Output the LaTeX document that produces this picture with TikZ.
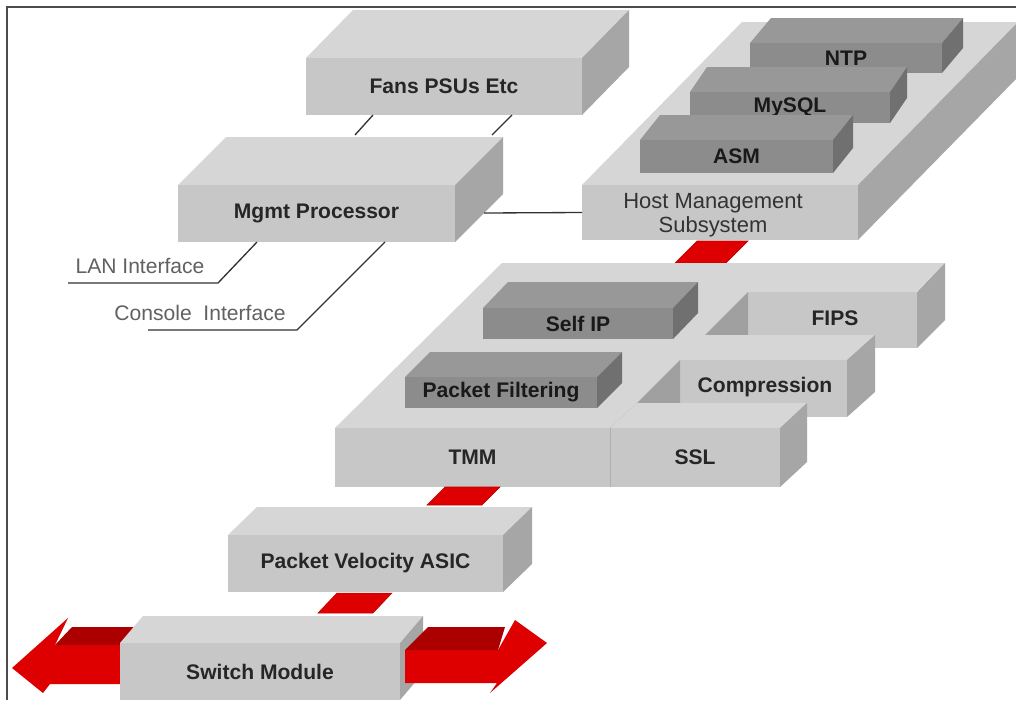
\documentclass[tikz,border=0pt]{standalone}
\usepackage{fontspec}
\setmainfont{Liberation Sans}
\usetikzlibrary{calc}
\definecolor{slabtop}{RGB}{214,214,214}
\definecolor{slabfront}{RGB}{199,199,199}
\definecolor{slabside}{RGB}{166,166,166}
\definecolor{coretop}{RGB}{152,152,152}
\definecolor{corefront}{RGB}{140,140,140}
\definecolor{coreside}{RGB}{112,112,112}
\definecolor{notchgray}{RGB}{160,160,160}
\definecolor{linkred}{RGB}{222,0,0}
\definecolor{arrowdark}{RGB}{172,0,0}
\definecolor{wire}{RGB}{50,50,50}
\newcommand{\boxfont}{\fontsize{12}{14}\selectfont\bfseries}
\newcommand{\slab}[9]{%
  \fill[#8top] (#2,#3) -- ++(#6,-#7) -- ++(#4-#2,0) -- (#4,#3) -- cycle;
  \fill[#8side] (#4,#3) -- ++(#6,-#7) -- ++(0,#5-#3) -- (#4,#5) -- cycle;
  \node[#8front, anchor=north west, minimum width={(#4-#2)*0.02cm},
        minimum height={(#5-#3)*0.02cm}] (#1) at (#2,#3) {#9};}

\begin{document}
\begin{tikzpicture}[x=0.02cm, y=-0.02cm,
    lttop/.style={fill=slabtop},
    ltside/.style={fill=slabside},
    ltfront/.style={fill=slabfront, inner sep=0pt, outer sep=0pt,
                    font=\boxfont, text=black!85, align=center},
    dktop/.style={fill=coretop},
    dkside/.style={fill=coreside},
    dkfront/.style={fill=corefront, inner sep=0pt, outer sep=0pt,
                    font=\boxfont, text=black!90, align=center},
    notch/.style={fill=notchgray},
    tag/.style={font=\boxfont, text=black!85},
    wire/.style={draw=wire, line width=0.75pt},
    link/.style={fill=linkred, draw=linkred!85!black, line width=0.3pt},
    arrtop/.style={fill=arrowdark},
    arrfront/.style={fill=linkred},
    note/.style={font=\fontsize{12.5}{13.6}\selectfont, align=center, text=black!80},
    iface/.style={font=\fontsize{12}{14}\selectfont, text=black!62}]
  \useasboundingbox (0,0) rectangle (1016,700);
  \clip (0,0) rectangle (1016,700);
  \fill[white] (0,0) rectangle (1016,700);

  \slab{fans}{306}{58}{582}{115}{47}{48}{lt}{Fans PSUs Etc}
  \slab{mgmt}{178}{185}{455}{242}{48}{48}{lt}{Mgmt Processor}
  \draw[wire] ($(fans.south west)+(67,0)$) -- ++(-18,20);
  \draw[wire] ($(fans.south west)+(206,0)$) -- ++(-20,20);

  \slab{host}{582}{185}{858}{240}{160}{163}{lt}{}
  \node[note] at (713,215) {Host Management\\Subsystem};
  \slab{ntp}{750}{43}{942}{73}{21}{25}{dk}{NTP}
  \slab{mysql}{690}{92}{890}{123}{17}{25}{dk}{MySQL}
  \slab{asm}{640}{140}{833}{173}{20}{25}{dk}{ASM}
  \draw[wire] ($(mgmt.south east)+(29,-29)$) -- (host.west);

  \node[iface] (lan) at (140,266) {LAN Interface};
  \node[iface] (console) at (200,313) {Console\ \ Interface};
  \coordinate (lanbend) at (218,283);
  \coordinate (lanend) at (68,283);
  \coordinate (conbend) at (297,330);
  \coordinate (conend) at (148,330);
  \draw[wire] ($(mgmt.south west)+(79,0)$) -- (lanbend) -- (lanend);
  \draw[wire] ($(mgmt.south west)+(207,0)$) -- (conbend) -- (conend);

  \fill[link] (675,263) -- (697,241) -- (748,241) -- (726,263) -- cycle;

  \fill[lttop] (335,428) -- (502,263) -- (945,263) -- (780,428) -- cycle;
  \fill[slabfront] (748,292) rectangle (917,348);
  \fill[ltside] (917,292) -- (945,263) -- (945,320) -- (917,348) -- cycle;
  \fill[notch] (705,335) -- (748,292) -- (748,335) -- cycle;
  \node[tag] (fips) at (835,318) {FIPS};
  \fill[lttop] (680,360) -- (705,335) -- (875,335) -- (847,360) -- cycle;
  \fill[ltside] (847,360) -- (875,335) -- (875,392) -- (847,417) -- cycle;
  \fill[slabfront] (680,360) rectangle (847,417);
  \fill[notch] (637,403) -- (680,360) -- (680,403) -- cycle;
  \node[tag] (compression) at (765,387) {Compression};
  \slab{tmm}{335}{428}{610}{487}{27}{25}{lt}{TMM}
  \slab{ssl}{610}{428}{780}{487}{27}{25}{lt}{SSL}
  \draw[slabfront!88!black, line width=0.4pt] (ssl.north west) -- (ssl.south west);
  \slab{selfip}{483}{308}{673}{339}{25}{26}{dk}{Self IP}
  \slab{pktfilter}{405}{377}{597}{408}{25}{25}{dk}{Packet Filtering}

  \fill[link] (427,505) -- (445,487) -- (500,487) -- (482,505) -- cycle;
  \slab{pva}{228}{535}{503}{592}{29}{28}{lt}{Packet Velocity ASIC}
  \fill[link] (318,613) -- (337,593) -- (392,593) -- (373,613) -- cycle;

  \fill[arrfront] (12,668) -- (68,618) -- (55,645) -- (140,645) -- (140,684)
    -- (50,684) -- (43,693) -- cycle;
  \fill[arrtop] (55,645) -- (72,627) -- (145,627) -- (140,645) -- cycle;
  \slab{switch}{120}{643}{400}{700}{23}{27}{lt}{Switch Module}
  \fill[arrfront] (405,650) -- (498,650) -- (515,620) -- (547,643) -- (490,693)
    -- (497,683) -- (405,683) -- cycle;
  \fill[arrtop] (405,650) -- (428,627) -- (505,627) -- (498,650) -- cycle;

  \draw[black!70, line width=1pt] (1016,7) -- (7,7) -- (7,700);
\end{tikzpicture}
\end{document}
